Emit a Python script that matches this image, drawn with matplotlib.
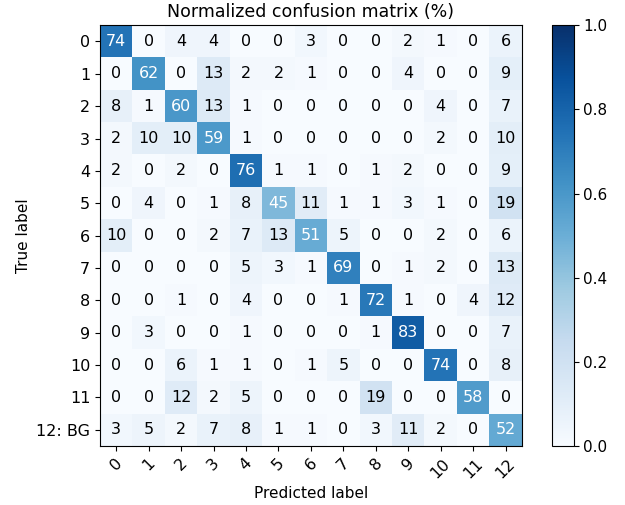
import matplotlib
matplotlib.use("Agg")
import matplotlib.pyplot as plt
import numpy as np

# row-normalised confusion matrix, in percent
cm_pct = [
    [74, 0, 4, 4, 0, 0, 3, 0, 0, 2, 1, 0, 6],
    [0, 62, 0, 13, 2, 2, 1, 0, 0, 4, 0, 0, 9],
    [8, 1, 60, 13, 1, 0, 0, 0, 0, 0, 4, 0, 7],
    [2, 10, 10, 59, 1, 0, 0, 0, 0, 0, 2, 0, 10],
    [2, 0, 2, 0, 76, 1, 1, 0, 1, 2, 0, 0, 9],
    [0, 4, 0, 1, 8, 45, 11, 1, 1, 3, 1, 0, 19],
    [10, 0, 0, 2, 7, 13, 51, 5, 0, 0, 2, 0, 6],
    [0, 0, 0, 0, 5, 3, 1, 69, 0, 1, 2, 0, 13],
    [0, 0, 1, 0, 4, 0, 0, 1, 72, 1, 0, 4, 12],
    [0, 3, 0, 0, 1, 0, 0, 0, 1, 83, 0, 0, 7],
    [0, 0, 6, 1, 1, 0, 1, 5, 0, 0, 74, 0, 8],
    [0, 0, 12, 2, 5, 0, 0, 0, 19, 0, 0, 58, 0],
    [3, 5, 2, 7, 8, 1, 1, 0, 3, 11, 2, 0, 52],
]
true_labels = [str(i) for i in range(12)] + ["12: BG"]
pred_labels = [str(i) for i in range(13)]

cm = np.array(cm_pct) / 100.0

fig = plt.figure(figsize=(6.25, 5.05), dpi=100)
ax = fig.add_axes([0.16, 0.117, 0.675, 0.833])
cax = fig.add_axes([0.883, 0.117, 0.035, 0.833])

im = ax.imshow(cm, interpolation="nearest", cmap=plt.cm.Blues, vmin=0, vmax=1, aspect="auto")
cb = fig.colorbar(im, cax=cax)
cb.ax.tick_params(labelsize=11)
ax.set_title("Normalized confusion matrix (%)", fontsize=12.5)

ticks = np.arange(len(pred_labels))
ax.set_xticks(ticks)
ax.set_xticklabels(pred_labels, rotation=45)
ax.set_yticks(ticks)
ax.set_yticklabels(true_labels)
ax.tick_params(labelsize=11.5)

thresh = cm.max() / 2.0
for i in range(cm.shape[0]):
    for j in range(cm.shape[1]):
        ax.text(j, i, "{:d}".format(cm_pct[i][j]),
                ha="center", va="center", fontsize=11.5,
                color="white" if cm[i, j] > thresh else "black")

ax.set_ylabel("True label", fontsize=11)
ax.set_xlabel("Predicted label", fontsize=11)

fig.savefig("out.png", dpi=100)
